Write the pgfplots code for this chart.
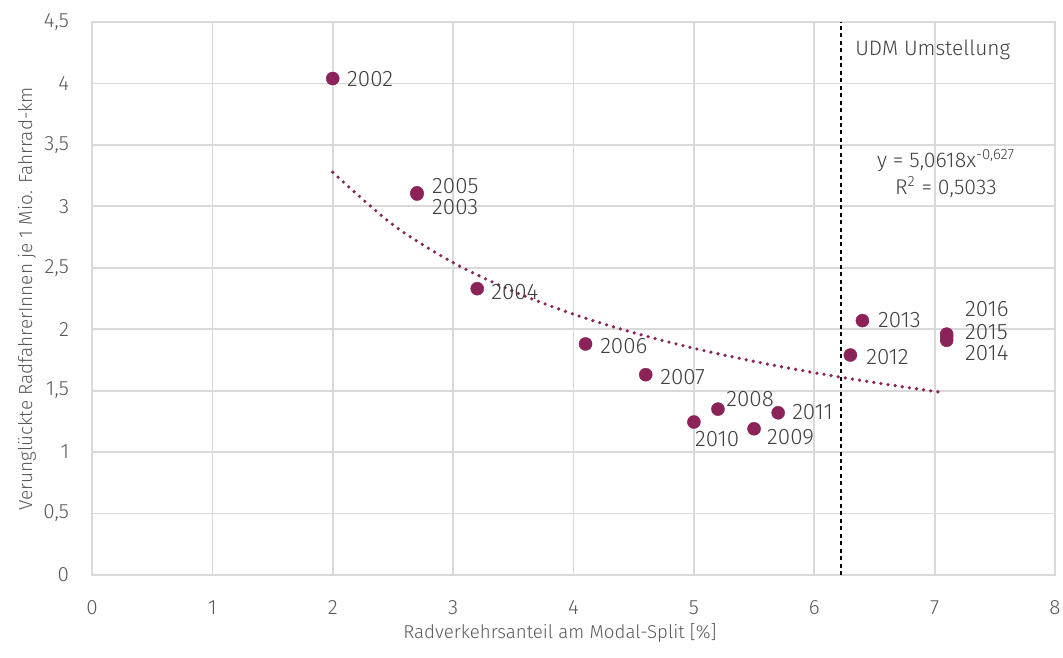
\documentclass[border=0pt]{standalone}
\usepackage{fontspec}
\setmainfont{Fira Sans Light}
\usepackage{pgfplots}
\pgfplotsset{compat=1.18}
\definecolor{plum}{HTML}{8B2358}
\definecolor{gridc}{HTML}{D9D9D9}
\definecolor{tickc}{HTML}{595959}
\definecolor{labc}{HTML}{404040}
\begin{document}
\begin{tikzpicture}
\begin{axis}[name=ax, scale only axis, width=722.25pt, height=414.75pt,
  xmin=0, xmax=8, ymin=0, ymax=4.5,
  xtick={0,1,...,8}, ytick={0,0.5,...,4.5},
  grid=major, grid style={gridc, line width=1.3pt},
  axis line style={draw=gridc, line width=1.3pt},
  major tick length=0pt,
  /pgf/number format/assume math mode=true,
  /pgf/number format/use comma,
  ticklabel style={font=\fontsize{15.5}{17}\selectfont, text=tickc, inner sep=0pt},
  yticklabel style={anchor=east, xshift=-17pt},
  xticklabel style={anchor=north, yshift=-19pt},
  xlabel={Radverkehrsanteil am Modal-Split [\%]},
  ylabel={Verunglückte RadfahrerInnen je 1 Mio. Fahrrad-km},
  every axis x label/.style={at={(axis description cs:0.486,-0.105)}, anchor=center, font=\fontsize{14}{16}\selectfont, text=tickc},
  every axis y label/.style={at={(axis description cs:-0.0675,0.5)}, anchor=center, rotate=90, font=\fontsize{14.2}{16}\selectfont, text=tickc},
  clip=false,
]
% vertical marker line (UDM Umstellung)
\addplot[black, line width=0.8pt, dash pattern=on 3pt off 2.6pt] coordinates {(6.222,0) (6.222,4.5)};
% trendline y = 5.0618 x^-0.627 (values tabulated)
\addplot[plum, line width=2.7pt, line cap=round, dash pattern=on 0pt off 5.4pt, smooth] coordinates {
 (2,3.277) (2.5,2.850) (3,2.542) (3.5,2.308) (4,2.122) (4.5,1.971) (5,1.845)
 (5.5,1.738) (6,1.646) (6.5,1.566) (7,1.494) (7.05,1.488)};
% data points
\addplot[only marks, mark=*, mark size=4.9pt, mark options={draw=plum, fill=plum, line width=0.3pt}] coordinates {
 (2.0,4.04) (2.7,3.10) (2.7,3.11) (3.2,2.33) (4.1,1.88) (4.6,1.63) (5.2,1.35)
 (5.0,1.245) (5.5,1.19) (5.7,1.32) (6.3,1.79) (6.4,2.07) (7.1,1.91) (7.1,1.94) (7.1,1.96)};
\begin{scope}[every node/.style={anchor=west, inner sep=0pt, text=labc, font=\fontsize{16.8}{18}\selectfont}]
\node at (axis cs:2.118,4.036) {2002};
\node at (axis cs:2.824,3.165) {2005};
\node at (axis cs:2.824,2.995) {2003};
\node at (axis cs:3.315,2.303) {2004};
\node at (axis cs:4.220,1.863) {2006};
\node at (axis cs:4.719,1.611) {2007};
\node at (axis cs:5.268,1.432) {2008};
\node at (axis cs:5.009,1.107) {2010};
\node at (axis cs:5.607,1.123) {2009};
\node at (axis cs:5.815,1.326) {2011};
\node at (axis cs:6.430,1.774) {2012};
\node at (axis cs:6.529,2.075) {2013};
\node at (axis cs:7.252,2.164) {2016};
\node at (axis cs:7.252,1.977) {2015};
\node at (axis cs:7.252,1.806) {2014};
\node[font=\fontsize{15.7}{17}\selectfont] at (axis cs:6.339,4.272) {UDM Umstellung};
\end{scope}
\node[align=center, inner sep=0pt, text=labc, font=\fontsize{16}{20.5}\selectfont] at (axis cs:7.094,3.267)
  {y = 5,0618x\textsuperscript{-0,627}\\R\textsuperscript{2} = 0,5033};
\end{axis}
\pgfresetboundingbox
\path[use as bounding box] ([xshift=-69pt, yshift=-61.5pt]ax.south west) rectangle ([xshift=6pt, yshift=16.5pt]ax.north east);
\end{tikzpicture}
\end{document}
